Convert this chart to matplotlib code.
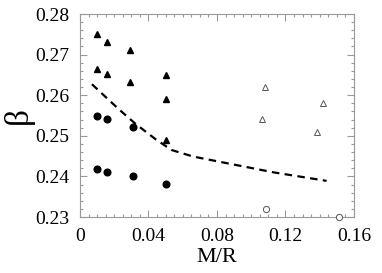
import matplotlib.pyplot as plt
from matplotlib.ticker import MultipleLocator

# filled triangles
tri_x = [0.010, 0.016, 0.029, 0.010, 0.016, 0.029, 0.050, 0.050, 0.050]
tri_y = [0.2751, 0.2731, 0.2711, 0.2665, 0.2651, 0.2633, 0.2650, 0.2591, 0.2490]

# filled circles
dot_x = [0.010, 0.016, 0.031, 0.010, 0.016, 0.031, 0.050]
dot_y = [0.2550, 0.2541, 0.2521, 0.2419, 0.2410, 0.2400, 0.2381]

# open triangles
otri_x = [0.1082, 0.1065, 0.1417, 0.1382]
otri_y = [0.2619, 0.2541, 0.2580, 0.2510]

# open circles
ocirc_x = [0.1084, 0.1514]
ocirc_y = [0.2320, 0.2299]

# dashed fit
fit_x = [0.007, 0.022, 0.032, 0.044, 0.0535, 0.066, 0.084, 0.113, 0.144]
fit_y = [0.2627, 0.2568, 0.2531, 0.2492, 0.2465, 0.2449, 0.2434, 0.2410, 0.2389]

plt.rcParams['font.family'] = 'Liberation Serif'

fig = plt.figure(figsize=(3.82, 2.73), dpi=100)
ax = fig.add_axes([0.2094, 0.2051, 0.7173, 0.7436])

ax.plot(fit_x, fit_y, color='black', linewidth=1.6, dashes=(3.4, 2.4))
ax.plot(tri_x, tri_y, '^', color='black', markersize=4.5, linestyle='none')
ax.plot(dot_x, dot_y, 'o', color='black', markersize=4.8, linestyle='none')
ax.plot(otri_x, otri_y, '^', markerfacecolor='white', markeredgecolor='#555555',
        markeredgewidth=0.7, markersize=5, linestyle='none', clip_on=False)
ax.plot(ocirc_x, ocirc_y, 'o', markerfacecolor='white', markeredgecolor='#555555',
        markeredgewidth=0.7, markersize=4.5, linestyle='none', clip_on=False, zorder=5)

ax.set_xlim(0, 0.16)
ax.set_ylim(0.23, 0.28)
ax.xaxis.set_minor_locator(MultipleLocator(0.005))
ax.yaxis.set_minor_locator(MultipleLocator(0.002))
ax.set_xticks([0, 0.04, 0.08, 0.12, 0.16])
ax.set_xticklabels(['0', '0.04', '0.08', '0.12', '0.16'])
ax.set_yticks([0.23, 0.24, 0.25, 0.26, 0.27, 0.28])
ax.set_yticklabels(['0.23', '0.24', '0.25', '0.26', '0.27', '0.28'])

for s in ax.spines.values():
    s.set_color('#999999')
    s.set_linewidth(0.8)
ax.tick_params(which='both', direction='in', top=True, right=True,
               color='#999999', width=0.8, labelsize=14, pad=8)
ax.tick_params(which='major', length=5)
ax.tick_params(which='minor', length=2.5)

ax.set_xlabel('M/R', fontsize=16, labelpad=2)
ax.set_ylabel('β', fontsize=24)
ax.yaxis.set_label_coords(-0.17, 0.5)

fig.savefig('out.png', dpi=100)
